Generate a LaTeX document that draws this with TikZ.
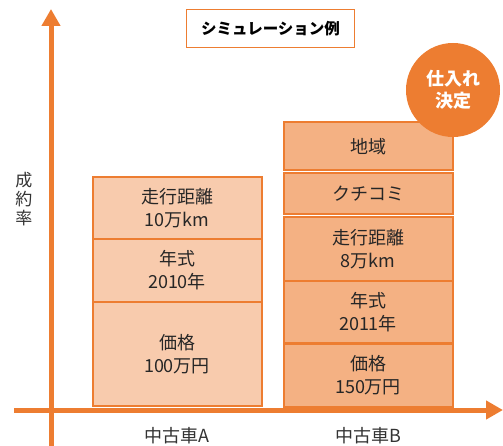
\documentclass[tikz,border=0pt]{standalone}
\usepackage{fontspec}
\setmainfont{Noto Sans CJK JP}
\usetikzlibrary{arrows.meta}
\definecolor{org}{HTML}{ED7D31}
\definecolor{lightA}{HTML}{F8CBAD}
\definecolor{lightB}{HTML}{F4B183}
\tikzset{
  cell/.style={draw=org, line width=2pt, inner sep=0pt, minimum width=169pt, align=center, font=\fontsize{18}{23}\selectfont, text=black!85},
  cellA/.style={cell, fill=lightA},
  cellB/.style={cell, fill=lightB},
  axis/.style={draw=org, line width=5pt, -{Triangle[width=18pt,length=17pt]}},
  lbl/.style={font=\fontsize{18}{20}\selectfont, text=black!80}
}
\begin{document}
\begin{tikzpicture}[x=1pt,y=-1pt]
\useasboundingbox (0,0) rectangle (503,446);
% stack A
\node[cellA, minimum height=62pt] (a1) at (177,208) {走行距離\\10万km};
\node[cellA, minimum height=63pt] (a2) at (177,270.5) {年式\\2010年};
\node[cellA, minimum height=104pt] (a3) at (177,354) {価格\\100万円};
% stack B
\node[cellB, minimum height=48pt] (b1) at (368,146.5) {地域};
\node[cellB, minimum height=41pt] (b2) at (368,194) {クチコミ};
\node[cellB, minimum height=63pt] (b3) at (368,249) {走行距離\\8万km};
\node[cellB, minimum height=62pt] (b4) at (368,312) {年式\\2011年};
\node[cellB, minimum height=63pt] (b5) at (368,375) {価格\\150万円};
% axes
\coordinate (vs) at (51,446);
\coordinate (ve) at (51,9);
\coordinate (hs) at (14,410);
\coordinate (he) at (503,410);
\draw[axis] (vs) -- (ve);
\draw[axis] (hs) -- (he);
% title
\node[draw=org, line width=1.5pt, minimum width=168pt, minimum height=38pt, inner sep=0pt, font=\bfseries\fontsize{15.5}{18}\selectfont] (title) at (270.5,28.5) {シミュレーション例};
% circle
\node[circle, fill=org, minimum size=94pt, inner sep=0pt, align=center, text=white, font=\bfseries\fontsize{18}{22}\selectfont] (dec) at (453,90) {仕入れ\\決定};
% labels
\node[lbl] (la) at (177,436) {中古車A};
\node[lbl] (lb) at (368,436) {中古車B};
\node[lbl, align=center, font=\fontsize{17}{19}\selectfont] (ylab) at (24,199) {成\\約\\率};
\end{tikzpicture}
\end{document}
